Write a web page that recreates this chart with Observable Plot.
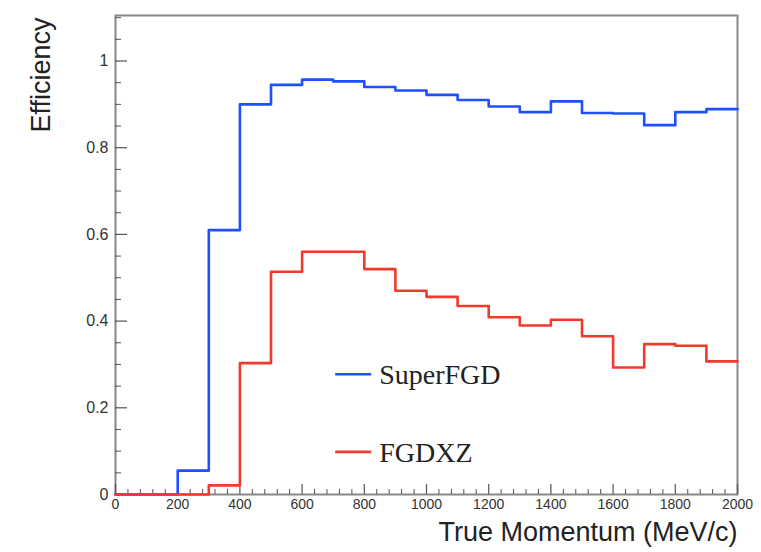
<!DOCTYPE html>
<html><head><meta charset="utf-8">
<script src="https://cdn.jsdelivr.net/npm/d3@7"></script>
<script src="https://cdn.jsdelivr.net/npm/@observablehq/plot@0.6"></script>
<style>body{margin:0;background:#fff} svg{display:block}</style>
</head><body><div id="chart"></div>
<script>
const binEdges = [0,100,200,300,400,500,600,700,800,900,1000,1100,1200,1300,1400,1500,1600,1700,1800,1900,2000];
const superFGD = [0,0,0.055,0.61,0.90,0.945,0.957,0.953,0.94,0.932,0.922,0.91,0.895,0.882,0.907,0.88,0.879,0.852,0.882,0.889];
const fgdxz = [0,0,0,0.021,0.303,0.514,0.56,0.56,0.52,0.47,0.456,0.435,0.409,0.39,0.403,0.365,0.293,0.347,0.343,0.307];
const seriesNames = ["SuperFGD","FGDXZ"];
const seriesColors = ["#1f50ff","#f03a2c"];
const xTicks = [0,200,400,600,800,1000,1200,1400,1600,1800,2000];
const yTicks = [0,0.2,0.4,0.6,0.8,1];
const xLabel = "True Momentum (MeV/c)";
const yLabel = "Efficiency";

const seriesValues = [superFGD, fgdxz];
const rows = [];
seriesNames.forEach((name, s) => {
  const vals = seriesValues[s];
  binEdges.forEach((e, i) => rows.push({series: name, x: e, y: vals[Math.min(i, vals.length - 1)]}));
});

const W = 761, H = 552, mL = 115, mR = 24, mT = 15, mB = 58;
const fw = W - mL - mR, fh = H - mT - mB;
const minorX = d3.range(0, 51).map(i => i * 40).filter(v => v % 200 !== 0 && v <= 2000);
const minorY = d3.range(0, 23).filter(i => i % 4 !== 0).map(i => +(i * 0.05).toFixed(2)).filter(v => v <= 1.1);

const chart = Plot.plot({
  width: W, height: H,
  marginLeft: mL, marginRight: mR, marginTop: mT, marginBottom: mB,
  x: {domain: [0, 2000]},
  y: {domain: [0, 1.105]},
  color: {domain: seriesNames, range: seriesColors},
  style: {fontFamily: "'Liberation Sans', Arial, sans-serif", background: "#fff", color: "#333"},
  marks: [
    Plot.frame({stroke: "#888", strokeWidth: 2}),
    Plot.ruleX(xTicks, {stroke: "#555", strokeWidth: 1.2, insetTop: fh - 10}),
    Plot.ruleX(minorX, {stroke: "#555", strokeWidth: 1, insetTop: fh - 5}),
    Plot.ruleY(yTicks, {stroke: "#555", strokeWidth: 1.2, insetRight: fw - 12}),
    Plot.ruleY(minorY, {stroke: "#555", strokeWidth: 1, insetRight: fw - 6}),
    Plot.axisX(xTicks, {tickSize: 0, tickPadding: 5, fontSize: 14, tickFormat: d => String(d), label: null, fill: "#333"}),
    Plot.axisY(yTicks, {tickSize: 0, tickPadding: 7, fontSize: 16, tickFormat: d3.format("~g"), label: null, fill: "#333"}),
    Plot.line(rows, {x: "x", y: "y", z: "series", stroke: "series", curve: "step-after", strokeWidth: 2.6}),
    Plot.text([yLabel], {frameAnchor: "top-left", rotate: -90, textAnchor: "end", dx: -85, dy: 2, fontSize: 27, fill: "#222"}),
    Plot.text([xLabel], {frameAnchor: "bottom-right", textAnchor: "end", dy: 46, fontSize: 27, fill: "#222"})
  ]
});

// legend inside the frame (ROOT TLegend style)
const leg = d3.select(chart).append("g")
  .attr("font-family", "'Liberation Serif', 'Times New Roman', serif")
  .attr("font-size", 28).attr("fill", "#222").attr("text-anchor", "start");
const legX = mL + 0.354 * fw, legRows = [0.75, 0.912];
seriesNames.forEach((name, i) => {
  const y = mT + legRows[i] * fh;
  leg.append("line").attr("x1", legX).attr("x2", legX + 36).attr("y1", y).attr("y2", y)
    .attr("stroke", seriesColors[i]).attr("stroke-width", 2.6);
  leg.append("text").attr("x", legX + 44).attr("y", y).attr("dy", "0.35em").attr("text-anchor", "start").text(name);
});

document.getElementById("chart").appendChild(chart);
</script>
</body></html>
